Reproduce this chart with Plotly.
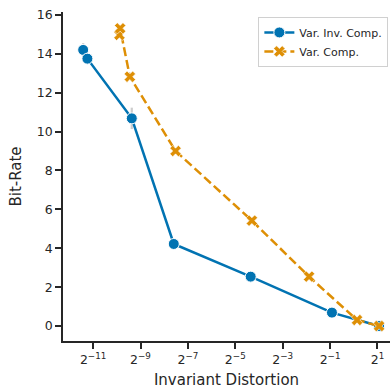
import plotly.graph_objects as go

# Data
inv_distortion = [0.000365, 0.000413, 0.001513, 0.00517, 0.04904, 0.5285, 2.099]
inv_bitrate = [14.2, 13.75, 10.68, 4.22, 2.54, 0.69, 0.0]
inv_err = [0.35, 0.15, 0.55, 0.05, 0.05, 0.05, 0.05]

comp_distortion = [0.001054, 0.001076, 0.00143, 0.005448, 0.05077, 0.2706, 1.101, 2.099]
comp_bitrate = [14.97, 15.31, 12.82, 9.0, 5.42, 2.54, 0.31, 0.0]
comp_err = [0.15, 0.15, 0.1, 0.05, 0.05, 0.05, 0.05, 0.05]

tick_exps = [-11, -9, -7, -5, -3, -1, 1]
tick_vals = [2.0 ** e for e in tick_exps]
tick_text = ["2<sup>%s</sup>" % (str(e).replace("-", "\u2212")) for e in tick_exps]
y_ticks = [0, 2, 4, 6, 8, 10, 12, 14, 16]

BLUE = "#0173b2"
ORANGE = "#de8f05"
DARK = "#262626"
ERR = "rgba(170,170,170,0.6)"

fig = go.Figure()
fig.add_trace(go.Scatter(
    x=inv_distortion, y=inv_bitrate, name="Var. Inv. Comp.",
    mode="lines+markers",
    line=dict(color=BLUE, width=2.5),
    marker=dict(symbol="circle", size=11, color=BLUE, line=dict(color="white", width=1)),
    error_y=dict(type="data", array=inv_err, color=ERR, thickness=2.2, width=0),
))
fig.add_trace(go.Scatter(
    x=comp_distortion, y=comp_bitrate, name="Var. Comp.",
    mode="lines+markers",
    line=dict(color=ORANGE, width=2.5, dash="9px,4px"),
    marker=dict(symbol="x", size=10, color=ORANGE, line=dict(color="white", width=0.6)),
    error_y=dict(type="data", array=comp_err, color=ERR, thickness=2.2, width=0),
))

axis_common = dict(
    showline=True, linecolor=DARK, linewidth=1.8, mirror=False,
    ticks="outside", ticklen=6, tickwidth=1.8, tickcolor=DARK,
    showgrid=False, zeroline=False, automargin=False,
    tickfont=dict(family="DejaVu Sans", size=12.5, color=DARK),
    title_font=dict(family="DejaVu Sans", size=15, color=DARK),
)

fig.update_layout(
    width=390, height=390,
    margin=dict(l=63, r=0, t=12, b=49, autoexpand=False),
    paper_bgcolor="white", plot_bgcolor="white",
    font=dict(family="DejaVu Sans", color=DARK),
    xaxis=dict(type="log", range=[-3.694, 0.4606], tickvals=tick_vals, ticktext=tick_text,
               title=dict(text="Invariant Distortion", standoff=9), **axis_common),
    yaxis=dict(range=[-0.77, 16.15], tickvals=y_ticks,
               title=dict(text="Bit-Rate", standoff=11), **axis_common),
    legend=dict(x=0.995, y=0.985, xanchor="right", yanchor="top",
                bgcolor="white", bordercolor="#d0d0d0", borderwidth=1,
                font=dict(family="DejaVu Sans", size=11, color=DARK),
                tracegroupgap=2, itemwidth=30),
    showlegend=True,
)

fig.write_html("out.html", config={"displayModeBar": False},
               post_script="document.body.style.margin='0px';document.body.style.padding='0px';")
